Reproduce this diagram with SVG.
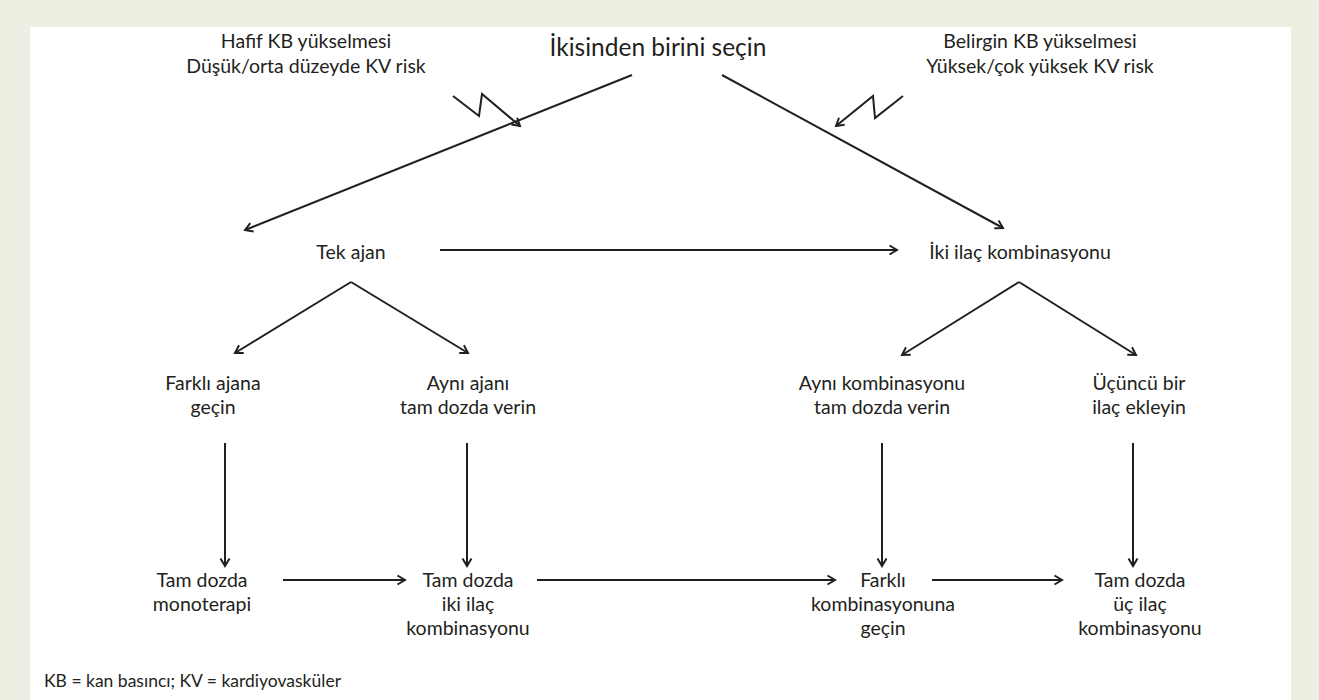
<svg xmlns="http://www.w3.org/2000/svg" width="1319" height="700" viewBox="0 0 1319 700">
<defs>
<marker id="ah" viewBox="0 0 12 12" refX="10" refY="6" markerWidth="12" markerHeight="12" markerUnits="userSpaceOnUse" orient="auto">
<path d="M2.5,1.5 L10,6 L2.5,10.5" fill="none" stroke="#231f20" stroke-width="2"/>
</marker>
<style>
text{font-family:Lato,"Open Sans","Liberation Sans",sans-serif;fill:#231f20;text-anchor:middle;font-size:19.5px}
.t{font-size:24.5px}
.f{font-size:17.5px;text-anchor:start}
.c{fill:none;stroke:#231f20;stroke-width:2;marker-end:url(#ah)}
</style>
</defs>
<rect width="1319" height="700" fill="#efeee3"/>
<rect x="30" y="27" width="1261" height="673" fill="#ffffff"/>
<g id="n-top"><text class="t" x="658" y="56">İkisinden birini seçin</text></g>
<g id="n-mild"><text x="306" y="48">Hafif KB yükselmesi</text><text x="306" y="73">Düşük/orta düzeyde KV risk</text></g>
<g id="n-marked"><text x="1040" y="48">Belirgin KB yükselmesi</text><text x="1040" y="73">Yüksek/çok yüksek KV risk</text></g>
<g id="n-single"><text x="351" y="259">Tek ajan</text></g>
<g id="n-two"><text x="1020" y="259">İki ilaç kombinasyonu</text></g>
<g id="n-switch"><text x="213" y="390">Farklı ajana</text><text x="213" y="414">geçin</text></g>
<g id="n-same"><text x="468" y="390">Aynı ajanı</text><text x="468" y="414">tam dozda verin</text></g>
<g id="n-samecomb"><text x="882" y="390">Aynı kombinasyonu</text><text x="882" y="414">tam dozda verin</text></g>
<g id="n-third"><text x="1139" y="390">Üçüncü bir</text><text x="1139" y="414">ilaç ekleyin</text></g>
<g id="n-mono"><text x="202" y="587">Tam dozda</text><text x="202" y="611">monoterapi</text></g>
<g id="n-fulltwo"><text x="468" y="587">Tam dozda</text><text x="468" y="611">iki ilaç</text><text x="468" y="635">kombinasyonu</text></g>
<g id="n-diff"><text x="883" y="587">Farklı</text><text x="883" y="611">kombinasyonuna</text><text x="883" y="635">geçin</text></g>
<g id="n-fullthree"><text x="1140" y="587">Tam dozda</text><text x="1140" y="611">üç ilaç</text><text x="1140" y="635">kombinasyonu</text></g>
<g id="footnote"><text class="f" x="44" y="687">KB = kan basıncı; KV = kardiyovasküler</text></g>
<g id="connectors">
<path class="c" d="M632,75 L245,230"/>
<path class="c" d="M722,75 L1003,228"/>
<path class="c" d="M453,96 L479,116 L482,94 L520,126"/>
<path class="c" d="M903,96 L875,118 L873,96 L836,126"/>
<path class="c" d="M440,250 L897,250"/>
<path class="c" d="M351,282 L235,353"/>
<path class="c" d="M351,282 L468,353"/>
<path class="c" d="M1019,282 L902,355"/>
<path class="c" d="M1019,282 L1136,355"/>
<path class="c" d="M225,443 L225,566"/>
<path class="c" d="M467,443 L467,566"/>
<path class="c" d="M882,443 L882,566"/>
<path class="c" d="M1133,443 L1133,566"/>
<path class="c" d="M283,580 L405,580"/>
<path class="c" d="M537,580 L835,580"/>
<path class="c" d="M932,580 L1062,580"/>
</g>
</svg>
